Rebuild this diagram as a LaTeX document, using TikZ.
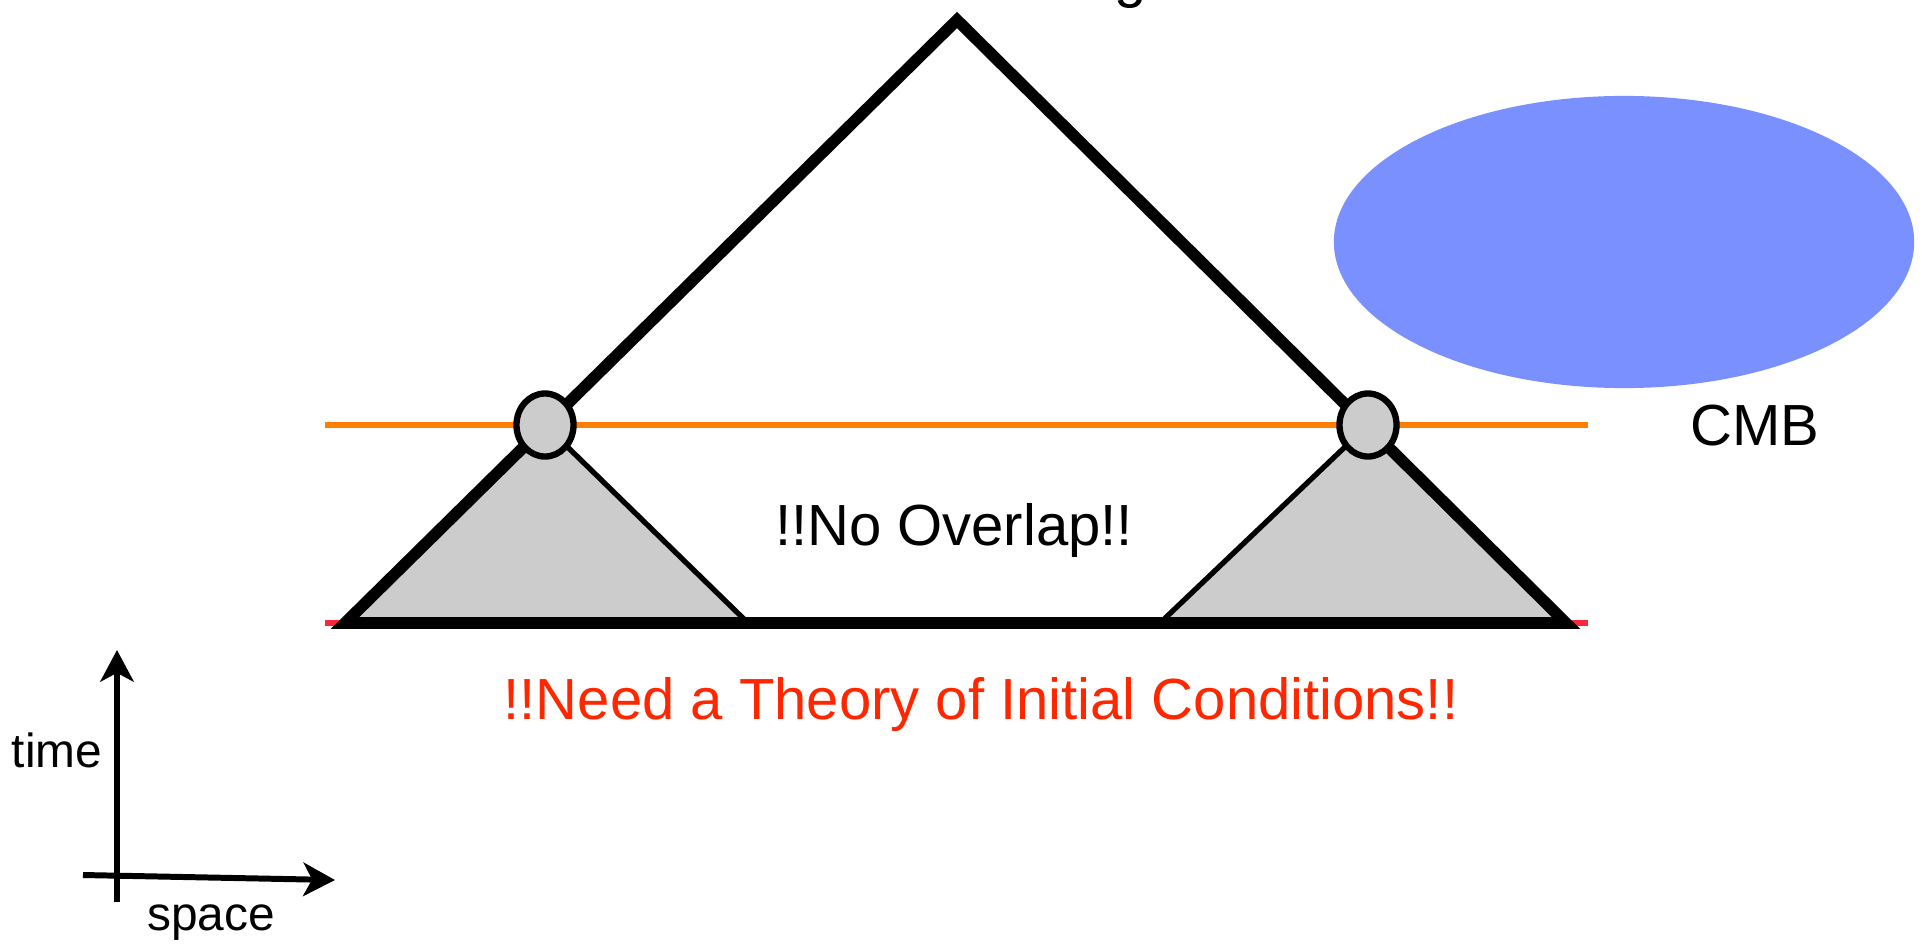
\documentclass[tikz,border=0pt]{standalone}
\usepackage{fontspec}
\setmainfont{Liberation Sans}
\usetikzlibrary{positioning,arrows.meta,shapes.geometric}
\definecolor{conegray}{RGB}{204,204,204}
\definecolor{cmborange}{RGB}{255,128,0}
\definecolor{initred}{RGB}{250,40,60}
\definecolor{warnred}{RGB}{255,38,0}
\definecolor{skyblue}{RGB}{122,144,255}
\tikzset{
  bigcone/.style={draw, line width=3.3pt, line join=miter, miter limit=10},
  smallcone/.style={draw, fill=conegray, line width=1.5pt, line join=miter},
  event/.style={ellipse, draw, fill=conegray, line width=1.8pt, minimum width=0.57cm,
                minimum height=0.63cm, inner sep=0pt},
  sky/.style={ellipse, fill=skyblue, minimum width=5.8cm, minimum height=2.92cm, inner sep=0pt},
  cmbslice/.style={line width=1.6pt, cmborange},
  icslice/.style={line width=1.6pt, initred},
  axis/.style={-{Stealth[length=9pt, width=9.5pt, inset=2.5pt]}, line width=1.7pt},
  bigtxt/.style={font=\fontsize{16.5}{20}\selectfont, anchor=base, inner sep=0pt},
  axtxt/.style={font=\fontsize{13.6}{16}\selectfont, anchor=base, inner sep=0pt}
}

\begin{document}
\begin{tikzpicture}[x=0.01cm, y=-0.01cm]
\useasboundingbox (0,0) rectangle (1922,948);
\coordinate (apex) at (957,20);
\coordinate (bl) at (345,623);
\coordinate (br) at (1566,623);
\coordinate (lmid) at (748,623);
\coordinate (rmid) at (1160,623);
\coordinate (cmbw) at (325,425);
\coordinate (cmbe) at (1588,425);
\coordinate (icw) at (325,623);
\coordinate (ice) at (1588,623);
\node[sky] (skymap) at (1624,242) {};
\draw[cmbslice] (cmbw) -- (cmbe);
\draw[icslice] (icw) -- (ice);
\path[smallcone] (bl) -- (545,425) -- (lmid) -- cycle;
\path[smallcone] (rmid) -- (1368,425) -- (br) -- cycle;
\path[bigcone] (apex) -- (bl) -- (br) -- cycle;
\node[event] (leftdot) at (545,425) {};
\node[event] (rightdot) at (1368,425) {};
\node[bigtxt] (horizon) at (1131,-4) {g};
\node[bigtxt] (cmblbl) at (1755,445) {CMB};
\node[bigtxt] (nooverlap) at (954,545) {!!No Overlap!!};
\node[bigtxt, text=warnred] (needic) at (981,719) {!!Need a Theory of Initial Conditions!!};
\coordinate (tlo) at (117,902);
\coordinate (thi) at (117,650);
\coordinate (xlo) at (83,875);
\coordinate (xhi) at (335,880);
\draw[axis] (tlo) -- (thi);
\draw[axis] (xlo) -- (xhi);
\node[axtxt] (timelbl) at (57,767) {time};
\node[axtxt] (spacelbl) at (211,930) {space};
\end{tikzpicture}
\end{document}
